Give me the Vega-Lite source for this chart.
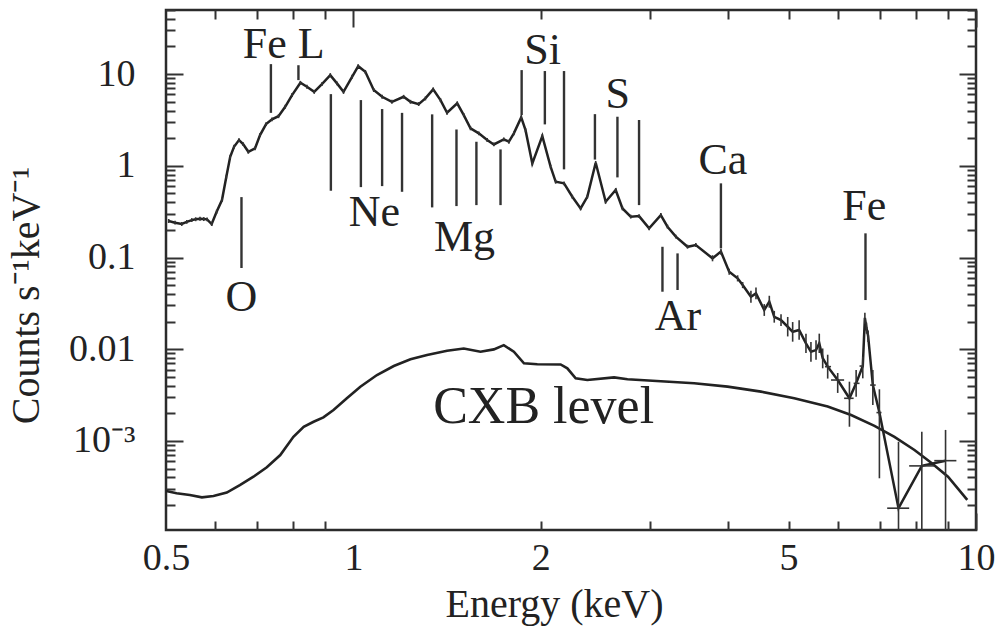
{
  "$schema": "https://vega.github.io/schema/vega-lite/v6.json",
  "width": 810,
  "height": 520,
  "autosize": "none",
  "padding": {"left": 166, "top": 10, "right": 22, "bottom": 98},
  "background": "white",
  "config": {
    "view": {"stroke": "#2b2b2b", "strokeWidth": 2.5},
    "font": "Liberation Serif",
    "axis": {"grid": false, "labelFont": "Liberation Serif", "titleFont": "Liberation Serif", "labelColor": "#222", "titleColor": "#222", "tickColor": "#333", "tickWidth": 2, "titleFontWeight": "normal"}
  },
  "datasets": {
    "spec": [
      {"e":0.505,"v":0.250,"lo":0.238,"hi":0.263},
      {"e":0.517,"v":0.240,"lo":0.229,"hi":0.252},
      {"e":0.530,"v":0.232,"lo":0.221,"hi":0.244},
      {"e":0.540,"v":0.245,"lo":0.233,"hi":0.257},
      {"e":0.550,"v":0.256,"lo":0.244,"hi":0.269},
      {"e":0.558,"v":0.262,"lo":0.249,"hi":0.275},
      {"e":0.567,"v":0.265,"lo":0.252,"hi":0.278},
      {"e":0.575,"v":0.263,"lo":0.250,"hi":0.276},
      {"e":0.582,"v":0.261,"lo":0.248,"hi":0.274},
      {"e":0.592,"v":0.232,"lo":0.221,"hi":0.244},
      {"e":0.603,"v":0.316,"lo":0.301,"hi":0.332},
      {"e":0.615,"v":0.424,"lo":0.404,"hi":0.445},
      {"e":0.625,"v":0.760,"lo":0.724,"hi":0.798},
      {"e":0.634,"v":1.255,"lo":1.195,"hi":1.318},
      {"e":0.643,"v":1.614,"lo":1.537,"hi":1.695},
      {"e":0.655,"v":1.908,"lo":1.817,"hi":2.003},
      {"e":0.665,"v":1.725,"lo":1.643,"hi":1.811},
      {"e":0.678,"v":1.423,"lo":1.355,"hi":1.494},
      {"e":0.695,"v":1.549,"lo":1.475,"hi":1.626},
      {"e":0.708,"v":2.165,"lo":2.062,"hi":2.273},
      {"e":0.724,"v":2.851,"lo":2.715,"hi":2.994},
      {"e":0.740,"v":3.21,"lo":3.06,"hi":3.37},
      {"e":0.758,"v":3.48,"lo":3.31,"hi":3.65},
      {"e":0.777,"v":4.40,"lo":4.19,"hi":4.62},
      {"e":0.797,"v":5.91,"lo":5.63,"hi":6.21},
      {"e":0.822,"v":8.04,"lo":7.66,"hi":8.44},
      {"e":0.842,"v":7.28,"lo":6.93,"hi":7.64},
      {"e":0.865,"v":6.41,"lo":6.10,"hi":6.73},
      {"e":0.890,"v":7.78,"lo":7.41,"hi":8.17},
      {"e":0.918,"v":9.75,"lo":9.29,"hi":10.24},
      {"e":0.941,"v":7.92,"lo":7.54,"hi":8.32},
      {"e":0.964,"v":6.41,"lo":6.10,"hi":6.73},
      {"e":0.995,"v":9.35,"lo":8.90,"hi":9.82},
      {"e":1.018,"v":12.2,"lo":11.6,"hi":12.8},
      {"e":1.045,"v":10.6,"lo":10.1,"hi":11.1},
      {"e":1.078,"v":6.70,"lo":6.38,"hi":7.04},
      {"e":1.112,"v":5.66,"lo":5.39,"hi":5.94},
      {"e":1.153,"v":4.99,"lo":4.75,"hi":5.24},
      {"e":1.204,"v":5.66,"lo":5.39,"hi":5.94},
      {"e":1.235,"v":4.99,"lo":4.75,"hi":5.24},
      {"e":1.273,"v":4.71,"lo":4.49,"hi":4.95},
      {"e":1.305,"v":5.43,"lo":5.17,"hi":5.70},
      {"e":1.343,"v":6.81,"lo":6.49,"hi":7.15},
      {"e":1.380,"v":5.21,"lo":4.96,"hi":5.47},
      {"e":1.414,"v":3.79,"lo":3.61,"hi":3.98},
      {"e":1.468,"v":4.80,"lo":4.57,"hi":5.04},
      {"e":1.504,"v":3.57,"lo":3.40,"hi":3.75},
      {"e":1.542,"v":2.56,"lo":2.44,"hi":2.69},
      {"e":1.590,"v":2.26,"lo":2.15,"hi":2.37},
      {"e":1.640,"v":1.91,"lo":1.82,"hi":2.01},
      {"e":1.681,"v":1.71,"lo":1.63,"hi":1.80},
      {"e":1.744,"v":1.94,"lo":1.85,"hi":2.04},
      {"e":1.777,"v":1.83,"lo":1.74,"hi":1.92},
      {"e":1.810,"v":2.26,"lo":2.15,"hi":2.37},
      {"e":1.860,"v":3.37,"lo":3.21,"hi":3.54},
      {"e":1.890,"v":2.45,"lo":2.33,"hi":2.57},
      {"e":1.938,"v":1.06,"lo":1.01,"hi":1.11},
      {"e":2.011,"v":2.11,"lo":2.01,"hi":2.22},
      {"e":2.074,"v":0.976,"lo":0.930,"hi":1.025},
      {"e":2.113,"v":0.670,"lo":0.638,"hi":0.704},
      {"e":2.179,"v":0.644,"lo":0.613,"hi":0.676},
      {"e":2.247,"v":0.460,"lo":0.438,"hi":0.483},
      {"e":2.317,"v":0.343,"lo":0.327,"hi":0.360},
      {"e":2.375,"v":0.460,"lo":0.438,"hi":0.483},
      {"e":2.450,"v":1.08,"lo":1.03,"hi":1.13},
      {"e":2.542,"v":0.406,"lo":0.387,"hi":0.426},
      {"e":2.638,"v":0.545,"lo":0.519,"hi":0.572},
      {"e":2.705,"v":0.343,"lo":0.327,"hi":0.360},
      {"e":2.789,"v":0.279,"lo":0.266,"hi":0.293},
      {"e":2.876,"v":0.283,"lo":0.270,"hi":0.297},
      {"e":2.985,"v":0.208,"lo":0.198,"hi":0.218},
      {"e":3.117,"v":0.290,"lo":0.276,"hi":0.305},
      {"e":3.195,"v":0.217,"lo":0.207,"hi":0.228},
      {"e":3.295,"v":0.169,"lo":0.161,"hi":0.177},
      {"e":3.441,"v":0.131,"lo":0.125,"hi":0.138},
      {"e":3.548,"v":0.137,"lo":0.130,"hi":0.144},
      {"e":3.774,"v":0.098,"lo":0.091,"hi":0.106},
      {"e":3.893,"v":0.116,"lo":0.107,"hi":0.125},
      {"e":4.014,"v":0.070,"lo":0.065,"hi":0.0756},
      {"e":4.141,"v":0.0593,"lo":0.0549,"hi":0.0640},
      {"e":4.219,"v":0.0501,"lo":0.0464,"hi":0.0541},
      {"e":4.350,"v":0.0374,"lo":0.0322,"hi":0.0434},
      {"e":4.432,"v":0.0407,"lo":0.0351,"hi":0.0472},
      {"e":4.570,"v":0.0268,"lo":0.0231,"hi":0.0311},
      {"e":4.656,"v":0.0330,"lo":0.0284,"hi":0.0383},
      {"e":4.742,"v":0.0226,"lo":0.0195,"hi":0.0262},
      {"e":4.862,"v":0.0208,"lo":0.0179,"hi":0.0241},
      {"e":4.984,"v":0.0176,"lo":0.0138,"hi":0.0225},
      {"e":5.076,"v":0.0155,"lo":0.0121,"hi":0.0198},
      {"e":5.199,"v":0.0162,"lo":0.0127,"hi":0.0207},
      {"e":5.332,"v":0.0116,"lo":0.0091,"hi":0.0148},
      {"e":5.431,"v":0.0094,"lo":0.0073,"hi":0.0120},
      {"e":5.534,"v":0.0098,"lo":0.0077,"hi":0.0125},
      {"e":5.601,"v":0.0116,"lo":0.0091,"hi":0.0148},
      {"e":5.672,"v":0.0080,"lo":0.0062,"hi":0.0102},
      {"e":5.778,"v":0.00646,"lo":0.00479,"hi":0.00872,"elo":5.72,"ehi":5.85},
      {"e":5.996,"v":0.00462,"lo":0.00334,"hi":0.00551,"elo":5.85,"ehi":6.14},
      {"e":6.262,"v":0.00292,"lo":0.00143,"hi":0.00443,"elo":6.14,"ehi":6.36},
      {"e":6.419,"v":0.00425,"lo":0.00304,"hi":0.00594,"elo":6.36,"ehi":6.50},
      {"e":6.579,"v":0.00656,"lo":0.00482,"hi":0.0083,"elo":6.50,"ehi":6.60},
      {"e":6.630,"v":0.0220,"lo":0.0190,"hi":0.0250},
      {"e":6.670,"v":0.0170,"lo":0.0148,"hi":0.0195},
      {"e":6.710,"v":0.0140,"lo":0.0120,"hi":0.0160},
      {"e":6.828,"v":0.00407,"lo":0.00247,"hi":0.00594,"elo":6.76,"ehi":6.90},
      {"e":6.996,"v":0.00204,"lo":0.000392,"hi":0.00366,"elo":6.92,"ehi":7.05},
      {"e":7.508,"v":0.000185,"lo":0.00001,"hi":0.00098,"elo":7.20,"ehi":7.81},
      {"e":8.184,"v":0.000535,"lo":0.00001,"hi":0.00126,"elo":7.81,"ehi":8.57},
      {"e":8.935,"v":0.000610,"lo":0.00001,"hi":0.00132,"elo":8.57,"ehi":9.30}
    ],
    "cxb": [
      {"e":0.500,"v":0.000285},{"e":0.520,"v":0.000269},{"e":0.546,"v":0.000258},{"e":0.571,"v":0.000243},
      {"e":0.596,"v":0.000251},{"e":0.626,"v":0.000274},{"e":0.657,"v":0.000331},{"e":0.691,"v":0.000408},
      {"e":0.726,"v":0.000517},{"e":0.763,"v":0.000703},{"e":0.801,"v":0.00111},{"e":0.832,"v":0.00143},
      {"e":0.863,"v":0.00162},{"e":0.895,"v":0.00181},{"e":0.929,"v":0.00218},{"e":0.976,"v":0.00292},
      {"e":1.026,"v":0.00391},{"e":1.091,"v":0.00524},{"e":1.161,"v":0.00656},{"e":1.235,"v":0.00776},
      {"e":1.313,"v":0.00865},{"e":1.414,"v":0.00963},{"e":1.504,"v":0.0102},{"e":1.600,"v":0.0094},
      {"e":1.681,"v":0.00997},{"e":1.744,"v":0.0111},{"e":1.810,"v":0.0094},{"e":1.879,"v":0.00703},
      {"e":1.974,"v":0.00686},{"e":2.152,"v":0.00683},{"e":2.206,"v":0.00619},{"e":2.275,"v":0.00482},
      {"e":2.375,"v":0.00462},{"e":2.622,"v":0.00494},{"e":2.756,"v":0.00471},{"e":3.117,"v":0.00448},
      {"e":3.526,"v":0.00426},{"e":3.990,"v":0.00391},{"e":4.514,"v":0.00345},{"e":5.106,"v":0.00292},
      {"e":5.778,"v":0.00237},{"e":6.300,"v":0.00192},{"e":6.869,"v":0.00146},{"e":7.396,"v":0.00111},
      {"e":7.964,"v":0.000798},{"e":8.473,"v":0.000579},{"e":9.016,"v":0.000408},{"e":9.682,"v":0.000228}
    ],
    "lines": [
      {"e":0.661,"top":0.456,"bot":0.0769},
      {"e":0.737,"top":12.85,"bot":3.78},
      {"e":0.816,"top":12.5,"bot":8.6},
      {"e":0.920,"top":6.05,"bot":0.535},
      {"e":1.028,"top":5.21,"bot":0.586},
      {"e":1.112,"top":4.16,"bot":0.601},
      {"e":1.197,"top":3.78,"bot":0.521},
      {"e":1.338,"top":3.64,"bot":0.352},
      {"e":1.464,"top":2.49,"bot":0.364},
      {"e":1.576,"top":1.83,"bot":0.373},
      {"e":1.723,"top":1.51,"bot":0.373},
      {"e":1.863,"top":11.06,"bot":3.57},
      {"e":2.030,"top":10.8,"bot":2.83},
      {"e":2.179,"top":10.8,"bot":0.915},
      {"e":2.443,"top":3.66,"bot":1.17},
      {"e":2.655,"top":3.43,"bot":0.748},
      {"e":2.876,"top":3.16,"bot":0.373},
      {"e":3.136,"top":0.131,"bot":0.0424},
      {"e":3.316,"top":0.111,"bot":0.0443},
      {"e":3.893,"top":0.644,"bot":0.126},
      {"e":6.645,"top":0.1836,"bot":0.0344}
    ],
    "labels": [
      {"e":0.661,"v":0.0362,"t":"O","g":"el"},
      {"e":0.773,"v":20.7,"t":"Fe L","g":"el"},
      {"e":1.081,"v":0.305,"t":"Ne","g":"el"},
      {"e":1.508,"v":0.163,"t":"Mg","g":"el"},
      {"e":2.013,"v":17.8,"t":"Si","g":"el"},
      {"e":2.658,"v":5.91,"t":"S","g":"el"},
      {"e":3.921,"v":1.127,"t":"Ca","g":"el"},
      {"e":3.320,"v":0.0225,"t":"Ar","g":"el"},
      {"e":6.615,"v":0.355,"t":"Fe","g":"el"},
      {"e":2.021,"v":0.00235,"t":"CXB level","g":"cxb"}
    ]
  },
  "layer": [
    {
      "data": {"name": "spec"},
      "mark": {"type": "line", "color": "#222", "strokeWidth": 2.5, "clip": true},
      "encoding": {
        "x": {"field": "e", "type": "quantitative",
              "scale": {"type": "log", "domain": [0.5, 10], "nice": false},
              "axis": {"orient": "bottom", "values": [0.5, 1, 2, 5, 10], "ticks": false, "domain": false,
                       "labelExpr": "datum.value + ''", "labelFont": "Liberation Serif", "labelFontSize": 38, "labelPadding": 9,
                       "labelFlush": false, "labelOverlap": false,
                       "title": "Energy (keV)", "titleFont": "Liberation Serif", "titleFontSize": 40, "titleX": 388, "titleY": 74,
                       "titleBaseline": "middle", "titleAlign": "center"}},
        "y": {"field": "v", "type": "quantitative",
              "scale": {"type": "log", "domain": [0.000107, 50], "nice": false},
              "axis": {"orient": "left", "values": [0.001, 0.01, 0.1, 1, 10], "ticks": false, "domain": false,
                       "labelExpr": "datum.value == 0.001 ? '10⁻³' : datum.value + ''", "labelFont": "Liberation Serif", "labelFontSize": 38,
                       "labelPadding": 31, "labelFlush": false, "labelOverlap": false,
                       "title": "Counts s⁻¹keV⁻¹", "titleFont": "Liberation Serif", "titleFontSize": 40, "titleX": -140, "titleY": 285,
                       "titleAngle": -90, "titleBaseline": "middle", "titleAlign": "center"}}
      }
    },
    {
      "data": {"name": "cxb"},
      "mark": {"type": "line", "color": "#222", "strokeWidth": 2.6, "clip": true},
      "encoding": {
        "x": {"field": "e", "type": "quantitative",
              "scale": {"type": "log", "domain": [0.5, 10], "nice": false},
              "axis": {"orient": "bottom", "values": [0.6, 0.7, 0.8, 0.9, 2, 3, 4, 5, 6, 7, 8, 9, 10],
                       "labels": false, "domain": false, "title": null,
                       "tickSize": {"condition": {"test": "datum.value == 1 || datum.value == 10", "value": -17}, "value": -9}}},
        "y": {"field": "v", "type": "quantitative",
              "scale": {"type": "log", "domain": [0.000107, 50], "nice": false},
              "axis": {"orient": "left",
                       "values": [0.0002,0.0003,0.0004,0.0005,0.0006,0.0007,0.0008,0.0009,0.001,0.002,0.003,0.004,0.005,0.006,0.007,0.008,0.009,0.01,0.02,0.03,0.04,0.05,0.06,0.07,0.08,0.09,0.1,0.2,0.3,0.4,0.5,0.6,0.7,0.8,0.9,1,2,3,4,5,6,7,8,9,10,20,30,40,50],
                       "labels": false, "domain": false, "title": null,
                       "tickSize": {"condition": {"test": "datum.value == 0.001 || datum.value == 0.01 || datum.value == 0.1 || datum.value == 1 || datum.value == 10", "value": -17}, "value": -9}}}
      }
    },
    {
      "data": {"name": "spec"},
      "mark": {"type": "rule", "color": "#333", "strokeWidth": 1.6, "clip": true},
      "encoding": {
        "x": {"field": "e", "type": "quantitative",
              "scale": {"type": "log", "domain": [0.5, 10], "nice": false},
              "axis": {"orient": "top", "values": [0.6, 0.7, 0.8, 0.9, 1, 2, 3, 4, 5, 6, 7, 8, 9, 10],
                       "labels": false, "domain": false, "title": null,
                       "tickSize": {"condition": {"test": "datum.value == 1 || datum.value == 10", "value": -17}, "value": -9}}},
        "y": {"field": "lo", "type": "quantitative",
              "scale": {"type": "log", "domain": [0.000107, 50], "nice": false},
              "axis": {"orient": "right",
                       "values": [0.0002,0.0003,0.0004,0.0005,0.0006,0.0007,0.0008,0.0009,0.001,0.002,0.003,0.004,0.005,0.006,0.007,0.008,0.009,0.01,0.02,0.03,0.04,0.05,0.06,0.07,0.08,0.09,0.1,0.2,0.3,0.4,0.5,0.6,0.7,0.8,0.9,1,2,3,4,5,6,7,8,9,10,20,30,40,50],
                       "labels": false, "domain": false, "title": null,
                       "tickSize": {"condition": {"test": "datum.value == 0.001 || datum.value == 0.01 || datum.value == 0.1 || datum.value == 1 || datum.value == 10", "value": -17}, "value": -9}}},
        "y2": {"field": "hi"}
      }
    },
    {
      "data": {"name": "spec"},
      "transform": [{"filter": "isValid(datum.elo)"}],
      "mark": {"type": "rule", "color": "#333", "strokeWidth": 1.6, "clip": true},
      "encoding": {
        "x": {"field": "elo", "type": "quantitative", "scale": {"type": "log", "domain": [0.5, 10], "nice": false}, "axis": null},
        "x2": {"field": "ehi"},
        "y": {"field": "v", "type": "quantitative", "scale": {"type": "log", "domain": [0.000107, 50], "nice": false}, "axis": null}
      }
    },
    {
      "data": {"name": "lines"},
      "mark": {"type": "rule", "color": "#333", "strokeWidth": 2.4},
      "encoding": {
        "x": {"field": "e", "type": "quantitative", "scale": {"type": "log", "domain": [0.5, 10], "nice": false}, "axis": null},
        "y": {"field": "top", "type": "quantitative", "scale": {"type": "log", "domain": [0.000107, 50], "nice": false}, "axis": null},
        "y2": {"field": "bot"}
      }
    },
    {
      "data": {"name": "labels"},
      "transform": [{"filter": "datum.g == 'el'"}],
      "mark": {"type": "text", "font": "Liberation Serif", "fontSize": 44, "color": "#222", "align": "center", "baseline": "middle"},
      "encoding": {
        "x": {"field": "e", "type": "quantitative", "scale": {"type": "log", "domain": [0.5, 10], "nice": false}, "axis": null},
        "y": {"field": "v", "type": "quantitative", "scale": {"type": "log", "domain": [0.000107, 50], "nice": false}, "axis": null},
        "text": {"field": "t"}
      }
    },
    {
      "data": {"name": "labels"},
      "transform": [{"filter": "datum.g == 'cxb'"}],
      "mark": {"type": "text", "font": "Liberation Serif", "fontSize": 52, "color": "#222", "align": "center", "baseline": "middle"},
      "encoding": {
        "x": {"field": "e", "type": "quantitative", "scale": {"type": "log", "domain": [0.5, 10], "nice": false}, "axis": null},
        "y": {"field": "v", "type": "quantitative", "scale": {"type": "log", "domain": [0.000107, 50], "nice": false}, "axis": null},
        "text": {"field": "t"}
      }
    }
  ],
  "resolve": {"axis": {"x": "independent", "y": "independent"}}
}
